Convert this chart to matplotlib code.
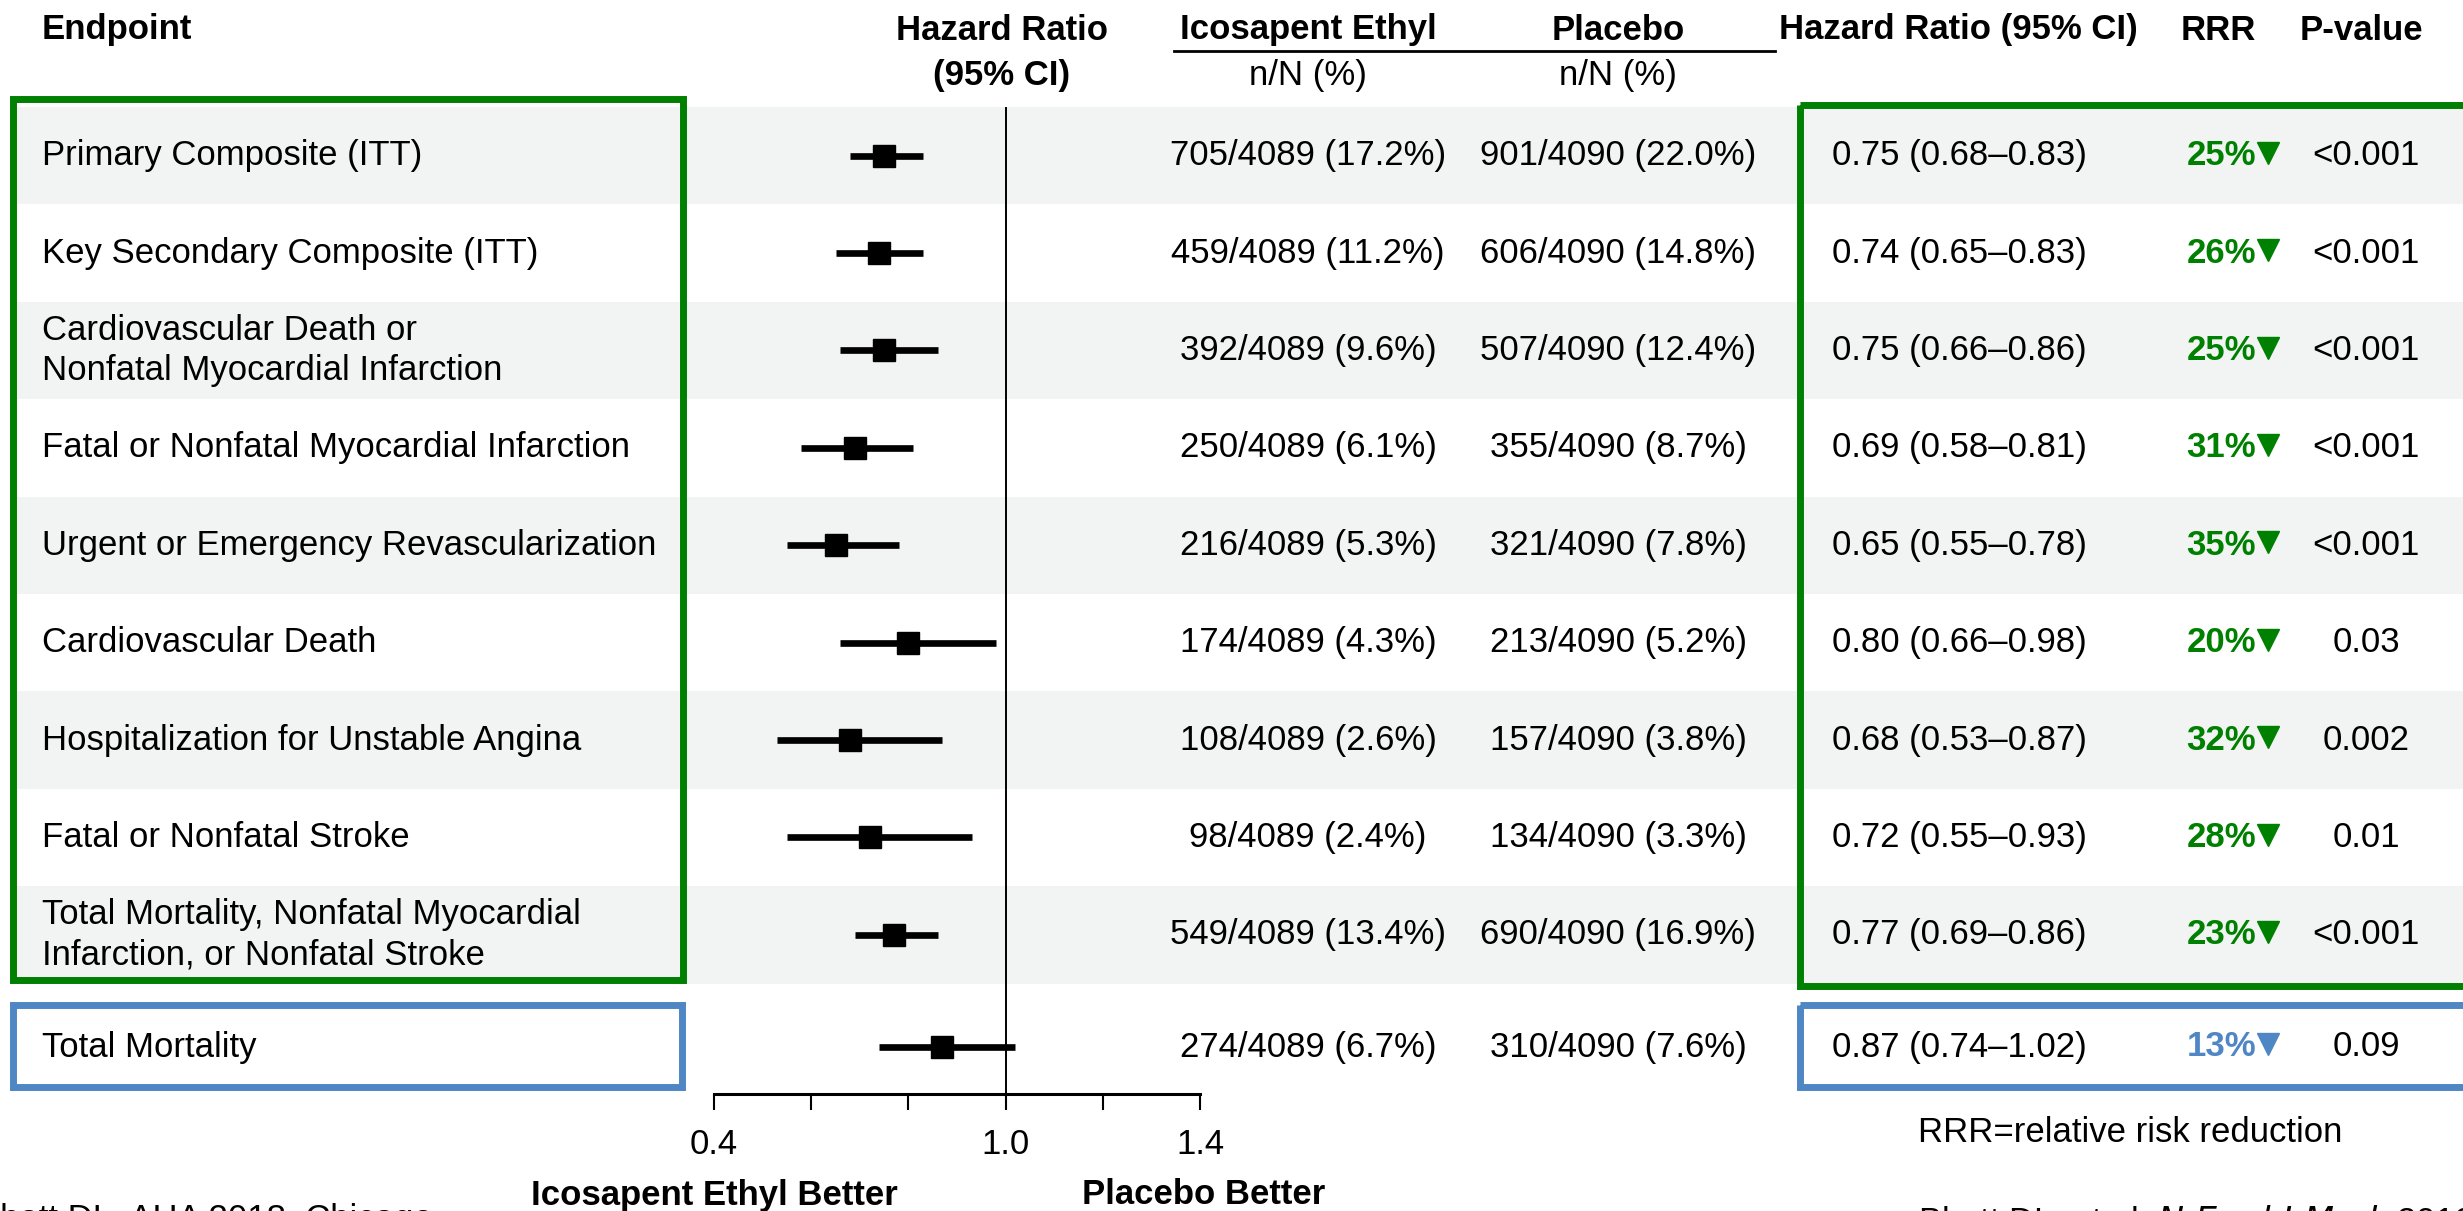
import matplotlib.pyplot as plt
from matplotlib.patches import Rectangle

plt.rcParams['font.family'] = ['Liberation Sans', 'DejaVu Sans']

# Data
endpoints = [
    'Primary Composite (ITT)',
    'Key Secondary Composite (ITT)',
    'Cardiovascular Death or\nNonfatal Myocardial Infarction',
    'Fatal or Nonfatal Myocardial Infarction',
    'Urgent or Emergency Revascularization',
    'Cardiovascular Death',
    'Hospitalization for Unstable Angina',
    'Fatal or Nonfatal Stroke',
    'Total Mortality, Nonfatal Myocardial\nInfarction, or Nonfatal Stroke',
    'Total Mortality',
]
hr = [0.75, 0.74, 0.75, 0.69, 0.65, 0.80, 0.68, 0.72, 0.77, 0.87]
ci_lo = [0.68, 0.65, 0.66, 0.58, 0.55, 0.66, 0.53, 0.55, 0.69, 0.74]
ci_hi = [0.83, 0.83, 0.86, 0.81, 0.78, 0.98, 0.87, 0.93, 0.86, 1.02]
ipe_events = [705, 459, 392, 250, 216, 174, 108, 98, 549, 274]
ipe_pct = [17.2, 11.2, 9.6, 6.1, 5.3, 4.3, 2.6, 2.4, 13.4, 6.7]
pbo_events = [901, 606, 507, 355, 321, 213, 157, 134, 690, 310]
pbo_pct = [22.0, 14.8, 12.4, 8.7, 7.8, 5.2, 3.8, 3.3, 16.9, 7.6]
ipe_total = 4089
pbo_total = 4090
rrr = [25, 26, 25, 31, 35, 20, 32, 28, 23, 13]
pvals = ['<0.001', '<0.001', '<0.001', '<0.001', '<0.001', '0.03', '0.002', '0.01', '<0.001', '0.09']
xticks = [0.4, 0.6, 0.8, 1.0, 1.2, 1.4]
xticklabels = ['0.4', '', '', '1.0', '', '1.4']

GREEN = '#008000'
BLUE = '#4f86c4'
SHADE = '#f2f3f3'
FS = 25

W, H = 2463, 1211
fig = plt.figure(figsize=(W / 100, H / 100), dpi=100)

# background axes in pixel units for the table part
bg = fig.add_axes([0, 0, 1, 1])
bg.set_xlim(0, W)
bg.set_ylim(H, 0)
bg.axis('off')

band_top, step = 107, 97.4
row_y = [band_top + step * (i + 0.5) for i in range(9)] + [1047]

# alternating row shading
for i in range(0, 9, 2):
    bg.add_patch(Rectangle((12, band_top + step * i), W, step, color=SHADE, lw=0, zorder=0))

# boxes
bg.add_patch(Rectangle((12.5, 98.5), 670.5, 881.5, fill=False, ec=GREEN, lw=5, zorder=2))
bg.add_patch(Rectangle((1800, 105), 680, 881, fill=False, ec=GREEN, lw=5, zorder=2))
bg.add_patch(Rectangle((12.5, 1005), 669.5, 82, fill=False, ec=BLUE, lw=5, zorder=2))
bg.add_patch(Rectangle((1800, 1005), 680, 82, fill=False, ec=BLUE, lw=5, zorder=2))

# headers
bold = dict(fontsize=FS, fontweight='bold', va='center')
bg.text(42, 30, 'Endpoint', ha='left', **bold)
bg.text(1002, 30, 'Hazard Ratio', ha='center', **bold)
bg.text(1002, 75, '(95% CI)', ha='center', **bold)
bg.text(1308, 30, 'Icosapent Ethyl', ha='center', **bold)
bg.text(1618, 30, 'Placebo', ha='center', **bold)
bg.text(1958, 30, 'Hazard Ratio (95% CI)', ha='center', **bold)
bg.text(2218, 30, 'RRR', ha='center', **bold)
bg.text(2361, 30, 'P-value', ha='center', **bold)
bg.plot([1174, 1775], [51, 51], color='black', lw=2)
bg.text(1308, 76, 'n/N (%)', ha='center', va='center', fontsize=FS)
bg.text(1618, 76, 'n/N (%)', ha='center', va='center', fontsize=FS)

# table rows
for i, y in enumerate(row_y):
    bg.text(42, y, endpoints[i], ha='left', va='center', fontsize=FS, linespacing=1.3)
    bg.text(1308, y, f'{ipe_events[i]}/{ipe_total} ({ipe_pct[i]:.1f}%)', ha='center', va='center', fontsize=FS)
    bg.text(1618, y, f'{pbo_events[i]}/{pbo_total} ({pbo_pct[i]:.1f}%)', ha='center', va='center', fontsize=FS)
    bg.text(1959, y, f'{hr[i]:.2f} ({ci_lo[i]:.2f}\u2013{ci_hi[i]:.2f})', ha='center', va='center', fontsize=FS)
    col = BLUE if i == 9 else GREEN
    bg.text(2256, y, f'{rrr[i]}%', ha='right', va='center', fontsize=FS, fontweight='bold', color=col)
    bg.plot([2268], [y - 3], marker='v', color=col, markersize=16, ls='none')
    bg.text(2366, y, pvals[i], ha='center', va='center', fontsize=FS)

# forest plot axes, y in the same pixel units
axis_y = 1094
ax = fig.add_axes([714 / W, 1 - axis_y / H, (1200 - 714) / W, (axis_y - band_top) / H])
ax.patch.set_visible(False)
ax.set_xlim(0.4, 1.4)
ax.set_ylim(axis_y, band_top)
for s in ['top', 'right', 'left']:
    ax.spines[s].set_visible(False)
ax.spines['bottom'].set_linewidth(2.2)
ax.set_yticks([])
ax.set_xticks(xticks)
ax.set_xticklabels(xticklabels)
ax.tick_params(axis='x', length=11.5, width=1.5, labelsize=FS, pad=13)
ax.axvline(1.0, color='black', lw=1.4)

ax.hlines(row_y, ci_lo, ci_hi, color='black', lw=4.8)
ax.plot(hr, row_y, 's', color='black', markersize=16, ls='none')

# bottom labels
bg.text(714, 1195, 'Icosapent Ethyl Better', ha='center', va='center', fontsize=FS, fontweight='bold')
bg.text(1082, 1195, 'Placebo Better', ha='left', va='center', fontsize=FS, fontweight='bold')
bg.text(2130, 1132, 'RRR=relative risk reduction', ha='center', va='center', fontsize=FS)
bg.text(-23, 1203, 'Bhatt DL. AHA 2018, Chicago', ha='left', va='top', fontsize=FS)
bg.text(1918, 1203, r'Bhatt DL, et al. $\it{N\ Engl\ J\ Med}$. 2019;380:11-22.', ha='left', va='top', fontsize=FS)

fig.savefig('out.png', dpi=100)
